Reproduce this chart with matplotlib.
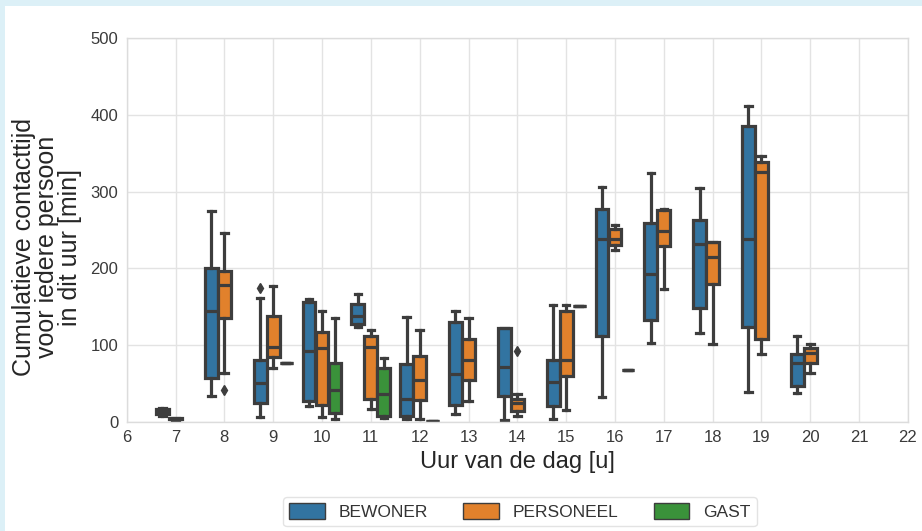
import matplotlib
matplotlib.use("Agg")
import matplotlib.pyplot as plt
from matplotlib.patches import Patch, Rectangle

plt.rcParams['font.family'] = ['Liberation Sans', 'DejaVu Sans']

# ---- data: box statistics per hour (minutes) ----
hours_bewoner = [7, 8, 9, 10, 11, 12, 13, 14, 15, 16, 17, 18, 19, 20]
bewoner_lo  = [7, 33, 6, 20, 123, 4, 10, 2, 4, 32, 103, 116, 39, 37]
bewoner_q1  = [10, 57, 24, 27, 128, 7, 22, 33, 20, 112, 133, 148, 123, 47]
bewoner_med = [13, 145, 51, 92, 138, 30, 62, 72, 52, 238, 192, 232, 238, 77]
bewoner_q3  = [16, 200, 81, 156, 153, 75, 130, 122, 81, 277, 259, 263, 385, 88]
bewoner_hi  = [18, 275, 161, 160, 167, 136, 145, 122, 152, 306, 324, 305, 412, 112]
bewoner_fliers = {9: [175]}

hours_personeel = [7, 8, 9, 10, 11, 12, 13, 14, 15, 16, 17, 18, 19, 20]
personeel_lo  = [2, 63, 70, 6, 16, 3, 27, 7, 15, 224, 173, 101, 88, 64]
personeel_q1  = [3, 135, 84, 22, 30, 28, 54, 14, 59, 230, 229, 179, 108, 76]
personeel_med = [4, 178, 98, 96, 98, 54, 80, 24, 80, 238, 249, 215, 326, 89]
personeel_q3  = [4.5, 196, 138, 117, 112, 86, 108, 30, 144, 251, 276, 234, 339, 96]
personeel_hi  = [5, 246, 177, 145, 120, 119, 135, 36, 152, 256, 277, 235, 347, 101]
personeel_fliers = {8: [41], 14: [92]}

hours_gast = [9, 10, 11, 12, 15, 16]
gast_lo  = [77, 3, 5, 1, 151, 67]
gast_q1  = [77, 12, 7, 1, 151, 67]
gast_med = [77, 42, 36, 1, 151, 67]
gast_q3  = [77, 77, 70, 1, 151, 67]
gast_hi  = [77, 135, 83, 1, 151, 67]
gast_fliers = {}

groups = ["BEWONER", "PERSONEEL", "GAST"]
colors = ["#3274a1", "#e1812c", "#3a923a"]
x_ticks = list(range(6, 23))
y_ticks = [0, 100, 200, 300, 400, 500]

series = [
    (hours_bewoner, bewoner_lo, bewoner_q1, bewoner_med, bewoner_q3, bewoner_hi, bewoner_fliers),
    (hours_personeel, personeel_lo, personeel_q1, personeel_med, personeel_q3, personeel_hi, personeel_fliers),
    (hours_gast, gast_lo, gast_q1, gast_med, gast_q3, gast_hi, gast_fliers),
]

line_gray = "#3d3d3d"
box_w = 0.8 / 3
offsets = [-box_w, 0.0, box_w]

fig = plt.figure(figsize=(9.22, 5.31), dpi=100)
fig.patch.set_facecolor("#dcf0f7")
fig.add_artist(Rectangle((5 / 922, 0), 1, 1 - 6 / 531, transform=fig.transFigure,
                         facecolor="white", edgecolor="none", zorder=0))

ax = fig.add_axes([0.1374, 0.2058, 0.8474, 0.7221])
ax.set_facecolor("white")
ax.set_axisbelow(True)
ax.grid(True, color="#e3e3e3", linewidth=1.0)
for s in ax.spines.values():
    s.set_color("#dcdcdc")
    s.set_linewidth(1.0)

lw = 2.3
for (hrs, lo, q1, med, q3, hi, fl), col, off in zip(series, colors, offsets):
    stats = []
    for h, a, b, c, d, e in zip(hrs, lo, q1, med, q3, hi):
        stats.append(dict(whislo=a, q1=b, med=c, q3=d, whishi=e, fliers=fl.get(h, [])))
    ax.bxp(stats, positions=[h + off for h in hrs], widths=box_w * 0.98,
           patch_artist=True, showfliers=True, manage_ticks=False,
           boxprops=dict(facecolor=col, edgecolor=line_gray, linewidth=lw),
           medianprops=dict(color=line_gray, linewidth=lw),
           whiskerprops=dict(color=line_gray, linewidth=lw),
           capprops=dict(color=line_gray, linewidth=lw),
           flierprops=dict(marker="d", markerfacecolor=line_gray,
                           markeredgecolor=line_gray, markersize=5))

ax.set_xlim(6, 22)
ax.set_ylim(0, 500)
ax.set_xticks(x_ticks)
ax.set_yticks(y_ticks)
ax.tick_params(axis="both", length=0, labelsize=12, labelcolor="#3a3a3a", pad=6)
ax.set_xlabel("Uur van de dag [u]", fontsize=17, color="#262626", labelpad=4)
ax.set_ylabel("Cumulatieve contacttijd\nvoor iedere persoon\nin dit uur [min]",
              fontsize=18, color="#262626", linespacing=0.95)
ax.yaxis.set_label_coords(-0.057, 0.455)

handles = [Patch(facecolor=c, edgecolor=line_gray, linewidth=1.0) for c in colors]
leg = fig.legend(handles, groups, loc="center", bbox_to_anchor=(0.564, 0.0365),
                 ncol=3, fontsize=12.5, frameon=True, handlelength=2.07,
                 handleheight=1.0, columnspacing=2.0, handletextpad=0.8,
                 borderpad=0.35, borderaxespad=0.0, fancybox=True)
leg.get_frame().set_edgecolor("#dddddd")
for t in leg.get_texts():
    t.set_color("#333333")

fig.savefig("out.png", dpi=100, facecolor=fig.get_facecolor())
